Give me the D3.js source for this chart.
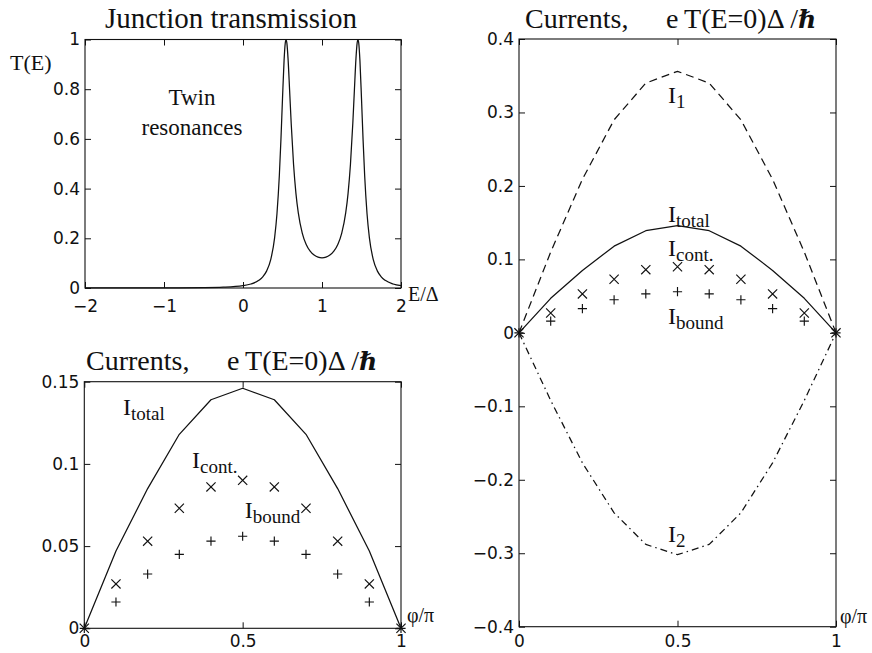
<!DOCTYPE html>
<html>
<head>
<meta charset="utf-8">
<script src="https://cdn.jsdelivr.net/npm/d3@7"></script>
<style>
  html, body { margin: 0; padding: 0; background: #fff; }
  svg { display: block; }
</style>
</head>
<body>
<svg id="chart" width="872" height="653"></svg>
<script>
// ---------- DATA ----------
// Panel 1: junction transmission T(E)
const energy = [-2, -1.5, -1, -0.5, -0.25, 0, 0.1, 0.2, 0.25, 0.3, 0.35, 0.4, 0.43, 0.46, 0.48, 0.5, 0.52, 0.535, 0.545, 0.555, 0.57, 0.59, 0.61, 0.64, 0.67, 0.7, 0.75, 0.8, 0.85, 0.9, 0.95, 1.0,
  1.05, 1.1, 1.15, 1.2, 1.25, 1.3, 1.33, 1.36, 1.39, 1.41, 1.43, 1.445, 1.455, 1.465, 1.48, 1.5, 1.52, 1.54, 1.57, 1.6, 1.65, 1.7, 1.75, 1.8, 1.9, 2.0];
const transmission = [0.0001, 0.0002, 0.0004, 0.0014, 0.0032, 0.0093, 0.016, 0.0307, 0.0448, 0.0689, 0.113, 0.202, 0.299, 0.453, 0.596, 0.762, 0.916, 0.986, 1.0, 0.9865, 0.924, 0.796, 0.663, 0.497, 0.381, 0.302, 0.221, 0.175, 0.148, 0.1325, 0.124, 0.1215,
  0.124, 0.1325, 0.148, 0.175, 0.221, 0.302, 0.381, 0.497, 0.663, 0.796, 0.924, 0.9865, 1.0, 0.986, 0.916, 0.762, 0.596, 0.453, 0.299, 0.202, 0.113, 0.0689, 0.0448, 0.0307, 0.016, 0.0093];

// Panels 2 & 3: currents vs phase phi/pi
const phase   = [0, 0.1, 0.2, 0.3, 0.4, 0.5, 0.6, 0.7, 0.8, 0.9, 1.0];
const iTotal  = [0, 0.047, 0.085, 0.118, 0.139, 0.146, 0.139, 0.118, 0.085, 0.047, 0];
const iCont   = [0, 0.027, 0.053, 0.073, 0.086, 0.090, 0.086, 0.073, 0.053, 0.027, 0];
const iBound  = [0, 0.016, 0.033, 0.045, 0.053, 0.056, 0.053, 0.045, 0.033, 0.016, 0];
const i1      = [0, 0.110, 0.209, 0.290, 0.340, 0.356, 0.340, 0.290, 0.209, 0.110, 0];
const i2      = [0, -0.092, -0.177, -0.245, -0.288, -0.302, -0.288, -0.245, -0.177, -0.092, 0];

// Tick values and labels
const tTicksX = [-2, -1, 0, 1, 2];
const tTickLabelsX = ["\u22122", "\u22121", "0", "1", "2"];
const tTicksY = [0, 0.2, 0.4, 0.6, 0.8, 1];
const tTickLabelsY = ["0", "0.2", "0.4", "0.6", "0.8", "1"];
const phTicks = [0, 0.5, 1];
const phTickLabels = ["0", "0.5", "1"];
const bTicksY = [0, 0.05, 0.1, 0.15];
const bTickLabelsY = ["0", "0.05", "0.1", "0.15"];
const rTicksY = [-0.4, -0.3, -0.2, -0.1, 0, 0.1, 0.2, 0.3, 0.4];
const rTickLabelsY = ["\u22120.4", "\u22120.3", "\u22120.2", "\u22120.1", "0", "0.1", "0.2", "0.3", "0.4"];

// ---------- DRAW ----------
const svg = d3.select("#chart");
svg.append("rect").attr("width", 872).attr("height", 653).attr("fill", "#fff");

const SERIF = "'Liberation Serif', 'Times New Roman', Times, serif";
const SANS = "'DejaVu Sans', 'Liberation Sans', Arial, sans-serif";
const INK = "#111";
const TICK = 6;

function frame(x, y, xt, xl, yt, yl, xPad) {
  const g = svg.append("g");
  const [x0, x1] = x.range();
  const [y0, y1] = y.range();
  const fmt = (vals, labs) => d => labs[vals.indexOf(d)];
  const styleAxis = sel => {
    sel.select(".domain").remove();
    sel.selectAll("line").attr("stroke", INK).attr("stroke-width", 1);
    sel.attr("font-family", SANS).attr("font-size", 17);
    sel.selectAll("text").attr("fill", INK);
  };
  g.append("g").attr("transform", `translate(0,${y0})`)
    .call(d3.axisBottom(x).tickValues(xt).tickFormat(fmt(xt, xl)).tickSize(-TICK).tickPadding(xPad))
    .call(styleAxis);
  g.append("g").attr("transform", `translate(0,${y1})`)
    .call(d3.axisTop(x).tickValues(xt).tickFormat("").tickSize(-TICK))
    .call(styleAxis);
  g.append("g").attr("transform", `translate(${x0},0)`)
    .call(d3.axisLeft(y).tickValues(yt).tickFormat(fmt(yt, yl)).tickSize(-TICK).tickPadding(5))
    .call(styleAxis);
  g.append("g").attr("transform", `translate(${x1},0)`)
    .call(d3.axisRight(y).tickValues(yt).tickFormat("").tickSize(-TICK))
    .call(styleAxis);
  g.append("rect")
    .attr("x", x0).attr("y", y1).attr("width", x1 - x0).attr("height", y0 - y1)
    .attr("fill", "none").attr("stroke", INK).attr("stroke-width", 1.1);
  return g;
}

function drawLine(x, y, xs, ys, dash) {
  const line = d3.line().x((d, i) => x(xs[i])).y(d => y(d));
  svg.append("path").datum(ys)
    .attr("d", line)
    .attr("fill", "none").attr("stroke", INK).attr("stroke-width", 1.25)
    .attr("stroke-linejoin", "round")
    .attr("stroke-dasharray", dash || null);
}

function drawMarkers(x, y, xs, ys, kind) {
  const r = 4.6;
  svg.append("g").selectAll("path").data(ys).join("path")
    .attr("d", (d, i) => {
      const cx = x(xs[i]), cy = y(d);
      if (kind === "x") {
        return `M${cx - r},${cy - r}L${cx + r},${cy + r}M${cx - r},${cy + r}L${cx + r},${cy - r}`;
      }
      return `M${cx - r},${cy}L${cx + r},${cy}M${cx},${cy - r}L${cx},${cy + r}`;
    })
    .attr("fill", "none").attr("stroke", INK).attr("stroke-width", 1.15);
}

function label(x, y, main, sub, size) {
  const t = svg.append("text").attr("x", x).attr("y", y)
    .attr("font-family", SERIF).attr("font-size", size || 24).attr("fill", INK);
  t.append("tspan").text(main);
  if (sub) t.append("tspan").attr("font-size", 19).attr("dy", 5).text(sub);
  return t;
}

function currentsTitle(xStart, xSecond, baseline) {
  const t = svg.append("text").attr("y", baseline)
    .attr("font-family", SERIF).attr("font-size", 28).attr("fill", INK);
  t.append("tspan").attr("x", xStart).text("Currents,");
  t.append("tspan").attr("x", xSecond).text("e\u2009T(E=0)\u0394 /");
  t.append("tspan").attr("font-family", "'DejaVu Serif', serif").attr("font-style", "italic")
    .attr("font-weight", "bold").attr("font-size", 25).text("\u210F");
}

// ----- Panel 1 -----
const xT = d3.scaleLinear([-2, 2], [85, 401]);
const yT = d3.scaleLinear([0, 1], [288, 39.5]);
frame(xT, yT, tTicksX, tTickLabelsX, tTicksY, tTickLabelsY, 12);
const tLine = d3.line().curve(d3.curveMonotoneX).x((d, i) => xT(energy[i])).y(d => yT(d));
svg.append("path").datum(transmission).attr("d", tLine)
  .attr("fill", "none").attr("stroke", INK).attr("stroke-width", 1.25);
svg.append("text").attr("x", 231).attr("y", 28).attr("text-anchor", "middle")
  .attr("font-family", SERIF).attr("font-size", 29).attr("fill", INK).text("Junction transmission");
svg.append("text").attr("x", 10).attr("y", 70)
  .attr("font-family", SERIF).attr("font-size", 22).attr("fill", INK).text("T(E)");
svg.append("text").attr("x", 408).attr("y", 301)
  .attr("font-family", SERIF).attr("font-size", 20).attr("fill", INK).text("E/\u0394");
svg.append("text").attr("x", xT(-0.646)).attr("y", yT(0.736)).attr("text-anchor", "middle")
  .attr("font-family", SERIF).attr("font-size", 23).attr("fill", INK).text("Twin");
svg.append("text").attr("x", xT(-0.646)).attr("y", yT(0.616)).attr("text-anchor", "middle")
  .attr("font-family", SERIF).attr("font-size", 23).attr("fill", INK).text("resonances");

// ----- Panel 2 (bottom left) -----
const xB = d3.scaleLinear([0, 1], [84.3, 401]);
const yB = d3.scaleLinear([0, 0.15], [628.3, 381.7]);
frame(xB, yB, phTicks, phTickLabels, bTicksY, bTickLabelsY, 7);
drawLine(xB, yB, phase, iTotal);
drawMarkers(xB, yB, phase, iCont, "x");
drawMarkers(xB, yB, phase, iBound, "+");
currentsTitle(86, 227, 370);
label(xB(0.122), yB(0.1298), "I", "total");
label(xB(0.340), yB(0.0975), "I", "cont.");
label(xB(0.507), yB(0.0671), "I", "bound");
svg.append("text").attr("x", 407).attr("y", 622)
  .attr("font-family", SERIF).attr("font-size", 20).attr("fill", INK).text("\u03C6/\u03C0");

// ----- Panel 3 (right) -----
const xR = d3.scaleLinear([0, 1], [519, 836]);
const yR = d3.scaleLinear([-0.4, 0.4], [626.7, 39]);
frame(xR, yR, phTicks, phTickLabels, rTicksY, rTickLabelsY, 8);
drawLine(xR, yR, phase, i1, "8,5");
drawLine(xR, yR, phase, i2, "7,4,1.5,4");
drawLine(xR, yR, phase, iTotal);
drawMarkers(xR, yR, phase, iCont, "x");
drawMarkers(xR, yR, phase, iBound, "+");
currentsTitle(525, 666, 28);
label(xR(0.47), yR(0.3128), "I", "1");
label(xR(0.47), yR(0.1508), "I", "total");
label(xR(0.47), yR(0.1045), "I", "cont.");
label(xR(0.47), yR(0.012), "I", "bound");
label(xR(0.47), yR(-0.2844), "I", "2");
svg.append("text").attr("x", 840).attr("y", 623)
  .attr("font-family", SERIF).attr("font-size", 20).attr("fill", INK).text("\u03C6/\u03C0");
</script>
</body>
</html>
